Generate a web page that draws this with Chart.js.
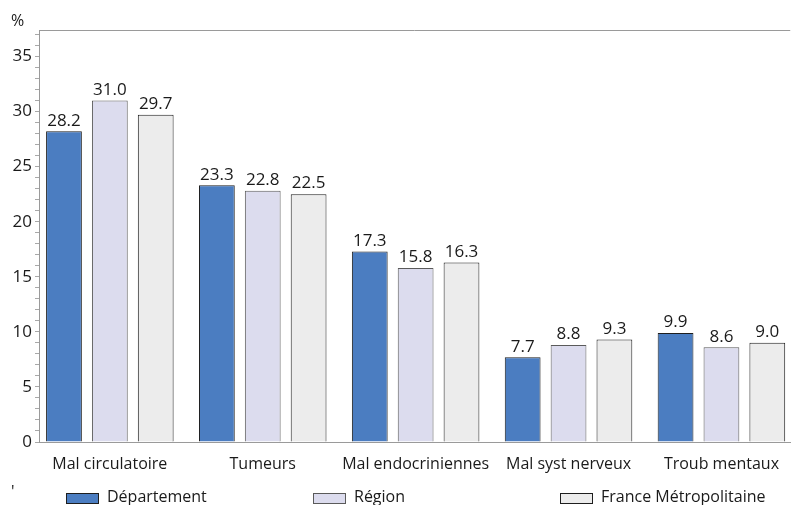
<!DOCTYPE html>
<html>
<head>
<meta charset="utf-8">
<script src="https://cdn.jsdelivr.net/npm/chart.js@4/dist/chart.umd.min.js"></script>
<style>
  html, body { margin: 0; padding: 0; background: #fff; overflow: hidden; }
  #wrap { width: 792px; height: 505px; position: relative; }
</style>
</head>
<body>
<div id="wrap"><canvas id="chart"></canvas></div>
<script>
// categories and values (%)
const categories = ['Mal circulatoire', 'Tumeurs', 'Mal endocriniennes', 'Mal syst nerveux', 'Troub mentaux'];
const departement = [28.2, 23.3, 17.3, 7.7, 9.9];
const region = [31.0, 22.8, 15.8, 8.8, 8.6];
const france = [29.7, 22.5, 16.3, 9.3, 9.0];
const seriesNames = ['Département', 'Région', 'France Métropolitaine'];
const yTicks = [0, 5, 10, 15, 20, 25, 30, 35];

const FONT = "'Open Sans', sans-serif";
const TEXT = '#1a1a1a';

function toPoints(arr) {
    return arr.map((v, i) => ({ x: i, y: v }));
}

// labels above bars + frame line, "%" and legend
const extras = {
    id: 'extras',
    afterDatasetsDraw(chart) {
        const ctx = chart.ctx;
        const area = chart.chartArea;
        ctx.save();
        ctx.font = '17px ' + FONT;
        ctx.fillStyle = TEXT;
        ctx.textAlign = 'center';
        ctx.textBaseline = 'bottom';
        chart.data.datasets.forEach((ds, di) => {
            chart.getDatasetMeta(di).data.forEach((bar, i) => {
                ctx.fillText(ds.data[i].y.toFixed(1), bar.x, bar.y - 2);
            });
        });

        // top frame line
        ctx.strokeStyle = '#9a9a9a';
        ctx.lineWidth = 1;
        ctx.beginPath();
        ctx.moveTo(area.left, area.top + 0.5);
        ctx.lineTo(area.right, area.top + 0.5);
        ctx.stroke();

        // unit
        ctx.font = '16px ' + FONT;
        ctx.textAlign = 'left';
        ctx.textBaseline = 'middle';
        ctx.fillText('%', 11, 21);
        ctx.fillText("'", 11, 492);

        // legend
        const legendX = [66, 313, 560];
        chart.data.datasets.forEach((ds, di) => {
            const x = legendX[di];
            ctx.fillStyle = ds.backgroundColor;
            ctx.fillRect(x, 493, 33, 10);
            ctx.strokeStyle = ds.borderColor;
            ctx.strokeRect(x + 0.5, 493.5, 32, 10);
            ctx.fillStyle = TEXT;
            ctx.fillText(seriesNames[di], x + 41, 497);
        });
        ctx.restore();
    }
};

new Chart(document.getElementById('chart'), {
    type: 'bar',
    data: {
        datasets: [
            { label: seriesNames[0], data: toPoints(departement), backgroundColor: '#4b7dc1', borderColor: '#1e1e1e', borderWidth: 1 },
            { label: seriesNames[1], data: toPoints(region), backgroundColor: '#dcdcee', borderColor: '#5a5a5a', borderWidth: 1 },
            { label: seriesNames[2], data: toPoints(france), backgroundColor: '#ececec', borderColor: '#1e1e1e', borderWidth: 1 }
        ]
    },
    options: {
        responsive: true,
        maintainAspectRatio: false,
        animation: false,
        categoryPercentage: 0.9,
        barPercentage: 0.78,
        layout: { padding: { top: 30, left: 0, right: 0, bottom: 0 } },
        plugins: {
            legend: { display: false },
            tooltip: { enabled: false }
        },
        scales: {
            x: {
                type: 'linear',
                offset: false,
                min: -0.4633,
                max: 4.45,
                afterFit: function(scale) { scale.height = 63; },
                grid: { display: false, drawTicks: false },
                border: { color: '#9a9a9a' },
                ticks: {
                    stepSize: 1,
                    includeBounds: false,
                    autoSkip: false,
                    maxRotation: 0,
                    padding: 13,
                    color: TEXT,
                    font: { family: FONT, size: 16 },
                    callback: function(value) {
                        return Number.isInteger(value) ? categories[value] : '';
                    }
                }
            },
            y: {
                min: 0,
                max: 37.4,
                afterFit: function(scale) { scale.width = 39; },
                grid: {
                    drawOnChartArea: false,
                    tickLength: 4,
                    tickColor: '#a8a8a8'
                },
                border: { color: '#9a9a9a' },
                ticks: {
                    stepSize: 1,
                    includeBounds: false,
                    autoSkip: false,
                    padding: 3,
                    color: TEXT,
                    font: { family: FONT, size: 17 },
                    callback: function(value) {
                        return yTicks.includes(value) ? value : '';
                    }
                }
            }
        }
    },
    plugins: [extras]
});
</script>
</body>
</html>
